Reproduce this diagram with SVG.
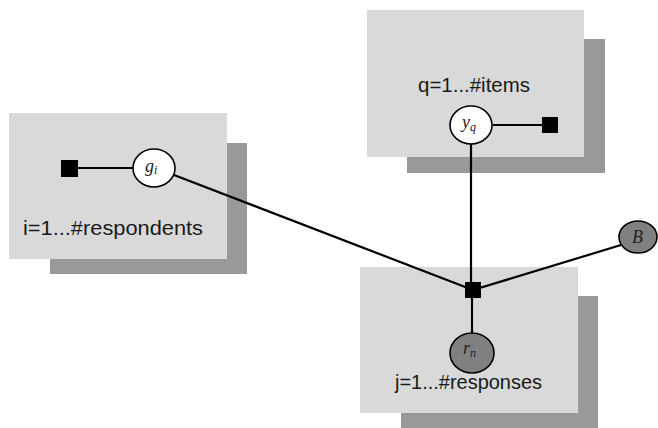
<svg xmlns="http://www.w3.org/2000/svg" width="658" height="428" viewBox="0 0 658 428">
<style>
.shadow{fill:#999999}
.plate{fill:#d9d9d9}
.lbl{font-family:"Liberation Sans",Arial,sans-serif;font-size:21px;fill:#1a1a1a}
.var{font-family:"Liberation Serif","Times New Roman",serif;font-style:italic;font-size:18px;fill:#222}
.sub{font-size:12px}
.open{fill:#ffffff;stroke:#000;stroke-width:1.6}
.obs{fill:#808080;stroke:#000;stroke-width:1.6}
.fac{fill:#000}
.edge{stroke:#000;stroke-width:2.2;fill:none}
</style>
<rect width="658" height="428" fill="#ffffff"/>
<g id="plate-respondents">
<rect class="shadow" x="50" y="143" width="197" height="131"/>
<rect class="plate" x="9" y="113" width="218" height="146"/>
<text class="lbl" x="23" y="235" textLength="180" lengthAdjust="spacingAndGlyphs">i=1...#respondents</text>
</g>
<g id="plate-items">
<rect class="shadow" x="407" y="39" width="198" height="134"/>
<rect class="plate" x="367" y="10" width="217" height="147"/>
<text class="lbl" x="418" y="92" textLength="112" lengthAdjust="spacingAndGlyphs">q=1...#items</text>
</g>
<g id="plate-responses">
<rect class="shadow" x="401" y="296" width="197" height="132"/>
<rect class="plate" x="360" y="267" width="218" height="146"/>
<text class="lbl" x="395" y="389" textLength="147" lengthAdjust="spacingAndGlyphs">j=1...#responses</text>
</g>
<g id="connectors">
<line class="edge" x1="69" y1="168" x2="133" y2="168"/>
<line class="edge" x1="174" y1="175" x2="473" y2="290"/>
<line class="edge" x1="493" y1="125" x2="550" y2="125"/>
<line class="edge" x1="471" y1="143" x2="471" y2="290"/>
<line class="edge" x1="473" y1="290" x2="621" y2="245"/>
<line class="edge" x1="472" y1="290" x2="472" y2="333"/>
</g>
<g id="factor-g">
<rect class="fac" x="61" y="160" width="17" height="17"/>
</g>
<g id="node-g">
<ellipse class="open" cx="154" cy="168" rx="21" ry="19"/>
<text class="var" x="145" y="172">g<tspan class="sub" dy="2">i</tspan></text>
</g>
<g id="node-y">
<ellipse class="open" cx="471" cy="125" rx="21" ry="19"/>
<text class="var" x="462" y="128">y<tspan class="sub" dy="3">q</tspan></text>
</g>
<g id="factor-y">
<rect class="fac" x="542" y="117" width="16" height="16"/>
</g>
<g id="factor-main">
<rect class="fac" x="465" y="282" width="16" height="16"/>
</g>
<g id="node-r">
<ellipse class="obs" cx="472" cy="353" rx="22" ry="20"/>
<text class="var" x="463" y="354">r<tspan class="sub" dy="3">n</tspan></text>
</g>
<g id="node-B">
<ellipse class="obs" cx="638" cy="237" rx="19" ry="16"/>
<text class="var" x="632" y="243" font-size="15">B</text>
</g>
</svg>
